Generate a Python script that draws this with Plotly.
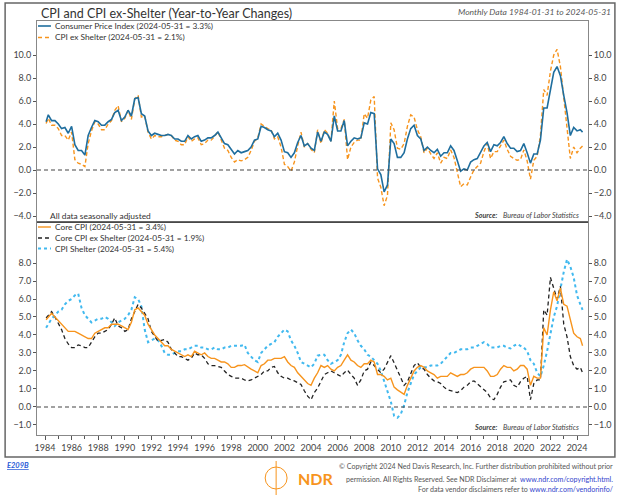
import pandas as pd
import plotly.graph_objects as go

# ---------------- data (YoY %, sampled Jan-1984, then Mar/Jun/Sep/Dec, then 2024-03, 2024-05) -------------
cpi = [4.2,
       4.8, 4.3, 4.3, 4.0,  3.6, 3.7, 3.2, 3.8,  2.2, 1.7, 1.7, 1.3,  3.0, 3.7, 4.3, 4.2,
       3.9, 3.9, 4.2, 4.4,  5.0, 5.2, 4.3, 4.6,  5.2, 4.7, 6.2, 6.3,  4.9, 4.7, 3.4, 3.0,
       3.2, 3.1, 3.0, 3.0,  3.1, 3.0, 2.7, 2.7,  2.5, 2.5, 3.0, 2.7,  2.9, 3.0, 2.5, 2.6,
       2.8, 2.8, 3.0, 3.3,  2.8, 2.3, 2.2, 1.8,  1.4, 1.7, 1.5, 1.6,  1.7, 2.0, 2.6, 2.7,
       3.8, 3.7, 3.5, 3.4,  2.9, 3.2, 2.6, 1.6,  1.5, 1.1, 1.5, 2.4,  3.0, 2.1, 2.3, 1.9,
       1.7, 3.3, 2.5, 3.3,  3.1, 2.5, 4.7, 3.4,  3.4, 4.3, 2.1, 2.5,  2.8, 2.7, 2.8, 4.1,
       4.0, 5.0, 4.9, 0.1,  -0.4, -1.9, -1.3, 2.7,  2.3, 1.1, 1.1, 1.5,  2.7, 3.6, 3.9, 3.0,
       2.7, 1.7, 2.0, 1.7,  1.5, 1.8, 1.2, 1.5,  1.5, 2.1, 1.7, 0.8,  -0.1, 0.1, 0.0, 0.7,
       0.9, 1.0, 1.5, 2.1,  2.4, 1.6, 2.2, 2.1,  2.4, 2.9, 2.3, 1.9,  1.9, 1.6, 1.7, 2.3,
       1.5, 0.6, 1.4, 1.4,  2.6, 5.4, 5.4, 7.0,  8.5, 9.0, 8.2, 6.5,  5.0, 3.0, 3.7, 3.4,
       3.5, 3.3]

cpi_ex_shelter = [4.05,
       4.5, 3.9, 3.9, 3.6,  3.0, 3.0, 2.6, 3.3,  0.9, 0.6, 0.5, 0.3,  2.3, 3.4, 4.2, 4.0,
       3.5, 3.5, 4.0, 4.3,  5.2, 5.6, 4.2, 4.5,  5.2, 4.4, 6.2, 6.5,  4.6, 4.7, 3.3, 2.7,
       3.0, 2.9, 2.9, 3.0,  3.1, 3.0, 2.6, 2.5,  2.2, 2.2, 2.9, 2.5,  2.7, 2.8, 2.2, 2.3,
       2.6, 2.6, 2.9, 3.35, 2.6, 1.9, 1.7, 1.1,  0.7, 0.9, 0.8, 0.9,  1.1, 1.7, 2.5, 2.8,
       4.0, 3.8, 3.6, 3.5,  2.7, 2.9, 2.0, 0.5,  0.3, -0.1, 0.7, 2.1,  3.3, 2.0, 2.3, 1.8,
       1.5, 3.5, 2.3, 3.5,  3.2, 2.5, 6.0, 3.6,  3.6, 4.4, 0.9, 2.0,  2.4, 2.6, 2.6, 4.9,
       4.5, 6.1, 6.4, -0.7, -1.5, -3.1, -2.2, 4.1,  3.5, 1.9, 1.8, 2.3,  3.8, 4.8, 4.6, 3.5,
       2.9, 1.5, 1.9, 1.4,  1.0, 1.5, 0.6, 1.1,  1.0, 1.75, 1.1, -0.2,  -1.45, -1.2, -1.3, -0.6,
       0.0, 0.3, 0.6, 1.6,  2.3, 1.0, 1.6, 1.6,  2.1, 2.6, 1.8, 1.2,  1.0, 0.85, 0.9, 1.75,
       0.8, -0.8, 0.85, 1.2,  3.0, 7.0, 6.5, 8.6,  10.0, 10.5, 9.0, 6.1,  3.5, 1.0, 2.0, 1.5,
       1.9, 2.1]

core_cpi = [4.85,
       5.0, 5.2, 5.0, 4.8,  4.6, 4.4, 4.2, 4.2,  4.2, 4.1, 4.0, 3.9,  3.8, 3.8, 4.1, 4.2,
       4.3, 4.4, 4.4, 4.6,  4.6, 4.6, 4.5, 4.4,  4.3, 4.7, 5.4, 5.5,  5.3, 5.1, 4.6, 4.3,
       4.0, 3.8, 3.6, 3.4,  3.4, 3.2, 3.1, 3.0,  2.9, 2.8, 2.9, 2.8,  3.1, 3.0, 2.9, 3.0,
       2.8, 2.7, 2.7, 2.6,  2.5, 2.5, 2.4, 2.2,  2.2, 2.3, 2.3, 2.35, 2.2, 2.1, 2.0, 1.9,
       2.3, 2.4, 2.6, 2.6,  2.7, 2.7, 2.7, 2.8,  2.5, 2.3, 2.2, 1.9,  1.7, 1.5, 1.3, 1.2,
       1.6, 1.9, 2.3, 2.2,  2.3, 2.1, 2.0, 2.2,  2.3, 2.6, 2.9, 2.6,  2.5, 2.3, 2.2, 2.4,
       2.4, 2.6, 2.5, 1.8,  1.8, 1.7, 1.5, 1.6,  1.1, 0.95, 0.8, 0.7,  1.2, 1.6, 2.0, 2.2,
       2.3, 2.2, 2.0, 1.9,  1.8, 1.6, 1.7, 1.7,  1.7, 1.9, 1.8, 1.7,  1.8, 1.8, 1.9, 2.1,
       2.2, 2.2, 2.2, 2.2,  2.0, 1.7, 1.7, 1.8,  2.1, 2.3, 2.2, 2.2,  2.0, 2.1, 2.3, 2.3,
       2.1, 1.2, 1.7, 1.6,  1.6, 4.4, 4.0, 5.4,  6.4, 5.9, 6.6, 5.7,  5.6, 4.8, 4.1, 3.9,
       3.8, 3.4]

core_cpi_ex_shelter = [4.95,
       5.1, 5.3, 5.0, 4.6,  4.3, 3.8, 3.5, 3.3,  3.3, 3.45, 3.4, 3.3,  3.3, 3.6, 3.9, 4.1,
       4.1, 4.2, 4.3, 4.6,  4.95, 4.5, 4.4, 4.2,  4.3, 4.9, 5.3, 5.7,  5.5, 5.2, 4.9, 4.2,
       3.9, 3.65, 3.7, 3.75,  3.6, 3.2, 3.0, 2.8,  2.8, 2.7, 2.6, 2.7,  3.0, 2.9, 2.9, 2.7,
       2.4, 2.3, 2.3, 2.25,  2.2, 2.0, 1.8, 1.7,  1.6, 1.6, 1.6, 1.5,  1.45, 1.5, 1.6, 1.7,
       1.8, 2.0, 2.0, 2.2,  2.25, 1.9, 1.7, 1.6,  1.6, 1.5, 1.45, 1.35,  1.25, 0.9, 0.6, 0.4,
       0.8, 1.05, 1.4, 1.8,  1.9, 2.0, 1.9, 1.8,  1.7, 1.9, 2.05, 1.8,  1.6, 1.2, 1.5, 2.0,
       2.1, 2.5, 2.3, 2.05,  1.9, 2.1, 2.5, 2.85,  2.45, 2.0, 1.6, 1.2,  1.4, 1.8, 2.3, 2.45,
       2.2, 2.1, 1.8, 1.6,  1.45, 1.4, 1.3, 1.1,  0.95, 0.9, 0.85, 0.8,  0.9, 1.1, 1.2, 1.4,
       1.45, 1.3, 1.1, 0.95,  0.8, 0.5, 0.4, 0.7,  1.1, 1.4, 1.45, 1.5,  1.2, 1.1, 1.4, 1.6,
       1.7, 0.4, 1.3, 1.5,  1.5, 5.4, 5.1, 7.2,  6.6, 6.0, 6.7, 4.6,  3.9, 2.8, 2.3, 2.1,
       2.2, 1.9]

cpi_shelter = [4.4,
       4.6, 4.9, 5.1, 5.3,  5.4, 5.7, 5.9, 6.0,  6.2, 6.3, 5.5, 5.1,  4.9, 4.7, 4.8, 4.9,
       4.9, 5.0, 4.9, 4.7,  4.5, 4.7, 4.8, 4.9,  5.1, 5.4, 6.1, 6.0,  5.6, 4.3, 3.6, 3.7,
       3.8, 3.7, 3.4, 3.0,  2.9, 2.9, 3.0, 3.1,  3.1, 3.2, 3.2, 3.3,  3.4, 3.4, 3.3, 3.3,
       3.2, 3.2, 3.3, 3.2,  3.2, 3.3, 3.3, 3.4,  3.4, 3.4, 3.4, 3.45, 3.0, 2.8, 2.6, 2.5,
       3.0, 3.2, 3.4, 3.5,  3.6, 3.9, 4.1, 4.3,  4.2, 3.7, 3.4, 3.0,  2.5, 2.4, 2.3, 2.2,
       2.4, 2.85, 2.9, 2.9,  2.6, 2.4, 2.5, 2.6,  2.9, 3.6, 4.1, 4.3,  4.1, 3.7, 3.4, 3.2,
       2.9, 2.8, 2.6, 2.4,  2.0, 1.4, 0.9, 0.3,  -0.5, -0.6, -0.4, 0.1,  0.8, 1.3, 1.8, 2.0,
       2.2, 2.2, 2.2, 2.3,  2.3, 2.3, 2.4, 2.6,  2.8, 3.0, 3.0, 3.1,  3.2, 3.2, 3.2, 3.3,
       3.3, 3.4, 3.5, 3.6,  3.5, 3.3, 3.3, 3.3,  3.4, 3.4, 3.3, 3.25,  3.4, 3.5, 3.4, 3.3,
       3.1, 2.6, 2.4, 1.9,  1.7, 2.3, 3.1, 4.1,  5.0, 5.6, 6.6, 7.5,  8.2, 7.8, 7.2, 6.2,
       5.7, 5.4]

dates = ([pd.Timestamp("1984-01-31")]
         + list(pd.date_range("1984-03-31", "2023-12-31", freq="QE-DEC"))
         + [pd.Timestamp("2024-03-31"), pd.Timestamp("2024-05-31")])

top_ticks = [-4, -2, 0, 2, 4, 6, 8, 10]
bottom_ticks = [-1, 0, 1, 2, 3, 4, 5, 6, 7, 8]

legend_top = ["Consumer Price Index (2024-05-31 = 3.3%)", "CPI ex Shelter (2024-05-31 = 2.1%)"]
legend_bottom = ["Core CPI (2024-05-31 = 3.4%)", "Core CPI ex Shelter (2024-05-31 = 1.9%)",
                 "CPI Shelter (2024-05-31 = 5.4%)"]

# ---------------- styling ----------------
BLUE = "#1f6e9e"
ORANGE = "#f7941d"
BLACK = "#222222"
LBLUE = "#41b9ef"
TXT = "#444444"
AX = "#888888"

W, H = 624, 499
L, R, T, B = 37, 34, 21, 64   # plot area px 37..590, 21..435
PW, PH = W - L - R, H - T - B
def px(xp): return (xp - L) / PW
def py(yp): return (H - B - yp) / PH
split = py(222)

fig = go.Figure()
fig.add_trace(go.Scatter(x=dates, y=cpi_ex_shelter, xaxis="x2", yaxis="y2", mode="lines",
                         line=dict(color=ORANGE, width=1.4, dash="4px,2.5px"), showlegend=False))
fig.add_trace(go.Scatter(x=dates, y=cpi, xaxis="x2", yaxis="y2", mode="lines",
                         line=dict(color=BLUE, width=1.6), showlegend=False))
fig.add_trace(go.Scatter(x=dates, y=cpi_shelter, xaxis="x", yaxis="y", mode="lines",
                         line=dict(color=LBLUE, width=2, dash="3px,3px"), showlegend=False))
fig.add_trace(go.Scatter(x=dates, y=core_cpi_ex_shelter, xaxis="x", yaxis="y", mode="lines",
                         line=dict(color=BLACK, width=1.3, dash="4px,3px"), showlegend=False))
fig.add_trace(go.Scatter(x=dates, y=core_cpi, xaxis="x", yaxis="y", mode="lines",
                         line=dict(color=ORANGE, width=1.4), showlegend=False))
# empty traces to materialise the right-hand axes
fig.add_trace(go.Scatter(x=[], y=[], xaxis="x", yaxis="y3", showlegend=False))
fig.add_trace(go.Scatter(x=[], y=[], xaxis="x2", yaxis="y4", showlegend=False))

xr = ["1983-05-26", "2024-10-27"]
tickfont = dict(size=9, color=TXT, family="Lato")
yax_common = dict(showline=True, linecolor=AX, linewidth=1, ticks="outside", ticklen=3,
                  tickcolor="#555", tickformat=".1f", showgrid=False, zeroline=False,
                  tickfont=tickfont, fixedrange=True)

fig.update_layout(
    width=W, height=H, margin=dict(l=L, r=R, t=T, b=B),
    paper_bgcolor="white", plot_bgcolor="white",
    font=dict(family="Lato", color=TXT),
    xaxis=dict(domain=[0, 1], anchor="y", range=xr, showline=True, linecolor=AX,
               ticks="outside", ticklen=4, tickcolor="#555", tick0="1984-01-01", dtick="M24",
               tickformat="%Y", tickfont=tickfont, showgrid=False,
               minor=dict(ticks="outside", ticklen=3, dtick="M12", tickcolor="#555", showgrid=False)),
    xaxis2=dict(domain=[0, 1], anchor="y2", matches="x", range=xr, showticklabels=False,
                showline=True, mirror=True, linecolor=AX, ticks="", showgrid=False),
    yaxis=dict(domain=[0, split], range=[-1.56, 10.28], tickvals=bottom_ticks, **yax_common),
    yaxis2=dict(domain=[split, 1], range=[-4.52, 12.96], tickvals=top_ticks, **yax_common),
    yaxis3=dict(overlaying="y", side="right", anchor="x", range=[-1.56, 10.28],
                tickvals=bottom_ticks, **yax_common),
    yaxis4=dict(overlaying="y2", side="right", anchor="x2", range=[-4.52, 12.96],
                tickvals=top_ticks, **yax_common),
)

shapes = []
# zero lines
for xr_, yr_ in (("x domain", "y"), ("x2 domain", "y2")):
    shapes.append(dict(type="line", xref=xr_, yref=yr_, x0=0, x1=1, y0=0, y1=0,
                       line=dict(color="#444", width=1.1, dash="4px,3px")))
# panel divider
shapes.append(dict(type="line", xref="paper", yref="paper", x0=0, x1=1, y0=split, y1=split,
                   line=dict(color="#333", width=1.5)))
# outer frame
shapes.append(dict(type="rect", xref="paper", yref="paper", x0=px(5), x1=px(617),
                   y0=py(457), y1=py(3), line=dict(color="#666", width=1.5)))

annotations = []
def text(x, y, s, size=9, color=TXT, xanchor="left", italic=False, **kw):
    annotations.append(dict(xref="paper", yref="paper", x=px(x), y=py(y), text=s,
                            showarrow=False, xanchor=xanchor, yanchor="middle",
                            font=dict(size=size, color=color, family="Lato",
                                      style="italic" if italic else "normal"), **kw))

# title
text(39, 14, "CPI and CPI ex-Shelter (Year-to-Year Changes)", size=12.5, color="#333")
text(615, 12, "Monthly Data 1984-01-31 to 2024-05-31", size=8.5, color="#555",
     xanchor="right", italic=True)

# legends (samples + labels)
def legend_row(y, label, color, dash, width):
    shapes.append(dict(type="line", xref="paper", yref="paper", x0=px(38), x1=px(51),
                       y0=py(y), y1=py(y), line=dict(color=color, width=width, dash=dash)))
    text(53, y, label, size=8.3, color="#333")

legend_row(26, legend_top[0], BLUE, "solid", 1.6)
legend_row(37.5, legend_top[1], ORANGE, "4px,3px", 1.4)
legend_row(227, legend_bottom[0], ORANGE, "solid", 1.4)
legend_row(238, legend_bottom[1], BLACK, "4px,3px", 1.3)
legend_row(248.5, legend_bottom[2], LBLUE, "3px,3px", 2)

text(48, 215.5, "All data seasonally adjusted", size=8.4, color="#333")
src = "<b><i>Source:</i></b>   <i>Bureau of Labor Statistics</i>"
text(583, 215, src, size=7.2, color="#444", xanchor="right")
text(583, 427, src, size=7.2, color="#444", xanchor="right")

# footer
text(5, 465, "<b><i><u>E209B</u></i></b>", size=7.5, color="#2a5bd7")
text(297, 478, "<b>NDR</b>", size=16, color=ORANGE)
shapes.append(dict(type="circle", xref="paper", yref="paper", x0=px(266), x1=px(288),
                   y0=py(489), y1=py(467), line=dict(color=ORANGE, width=1)))
shapes.append(dict(type="line", xref="paper", yref="paper", x0=px(277), x1=px(277),
                   y0=py(495), y1=py(461), line=dict(color=ORANGE, width=1)))
URL = "#3344cc"
text(617, 467, "© Copyright 2024 Ned Davis Research, Inc. Further distribution prohibited without prior",
     size=7.1, color="#555", xanchor="right")
text(617, 479, "permission. All Rights Reserved. See NDR Disclaimer at  "
     f"<span style='color:{URL}'>www.ndr.com/copyright.html.</span>",
     size=7.1, color="#555", xanchor="right")
text(617, 490, "For data vendor disclaimers refer to "
     f"<span style='color:{URL}'>www.ndr.com/vendorinfo/</span>",
     size=7.1, color="#555", xanchor="right")

fig.update_layout(shapes=shapes, annotations=annotations)
fig.write_html("out.html", config={"displayModeBar": False},
               post_script="document.body.style.margin='0px';document.body.style.overflow='hidden';")
